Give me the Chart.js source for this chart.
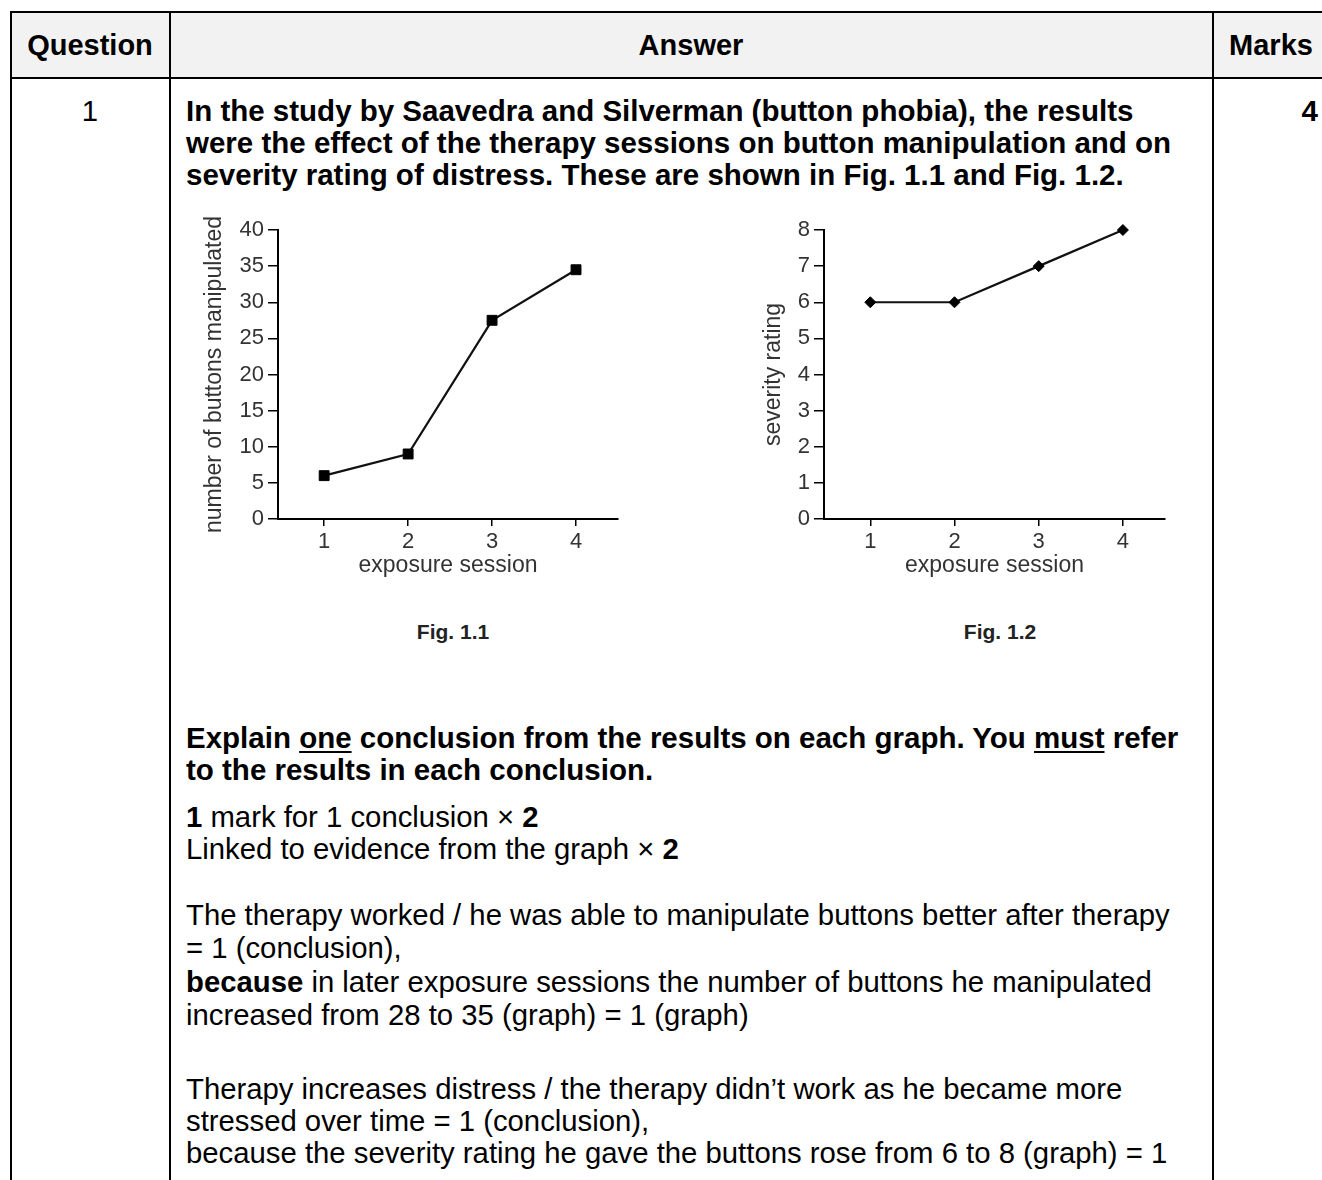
<!DOCTYPE html>
<html><head><meta charset="utf-8">
<script src="https://cdn.jsdelivr.net/npm/chart.js@4.4.1/dist/chart.umd.min.js"></script>
<style>
html,body{margin:0;padding:0;background:#fff;}
body{width:1322px;height:1180px;position:relative;overflow:hidden;font-family:"Liberation Sans",Arial,sans-serif;color:#000;}
.hdr{position:absolute;left:10px;top:12px;width:1330px;height:66px;background:#f2f2f2;}
.ln{position:absolute;background:#000;}
.t{position:absolute;white-space:nowrap;font-size:29.3px;line-height:32px;}
.c{transform:translateX(-50%);}
.b{font-weight:bold;}
.bb{font-size:29.5px;}
.h{font-size:29px;}
.u{text-decoration:underline;text-decoration-thickness:2px;text-underline-offset:3px;}
.fig{position:absolute;font-weight:bold;font-size:21px;line-height:24px;color:#222;transform:translate(-50%,-50%);white-space:nowrap;}
.cv{position:absolute;width:450px;height:390px;}
</style></head>
<body>
<div class="hdr"></div>
<div class="ln" style="left:10px;top:11px;width:1330px;height:1.5px"></div>
<div class="ln" style="left:10px;top:77px;width:1330px;height:2px"></div>
<div class="ln" style="left:10px;top:11px;width:1.5px;height:1170px"></div>
<div class="ln" style="left:169px;top:11px;width:1.5px;height:1170px"></div>
<div class="ln" style="left:1212px;top:11px;width:1.5px;height:1170px"></div>

<div class="t b h c" style="left:90px;top:29px">Question</div>
<div class="t b h c" style="left:691px;top:29px">Answer</div>
<div class="t b h c" style="left:1271px;top:29px">Marks</div>

<div class="t c" style="left:90px;top:95px">1</div>
<div class="t b bb" style="right:4px;top:95px">4</div>

<div class="t b bb" style="left:186px;top:95px">In the study by Saavedra and Silverman (button phobia), the results</div>
<div class="t b bb" style="left:186px;top:127px">were the effect of the therapy sessions on button manipulation and on</div>
<div class="t b bb" style="left:186px;top:159px">severity rating of distress. These are shown in Fig. 1.1 and Fig. 1.2.</div>

<div class="cv" style="left:190px;top:200px"><canvas id="fig1" width="450" height="390"></canvas></div>
<div class="cv" style="left:740px;top:200px"><canvas id="fig2" width="450" height="390"></canvas></div>

<div class="fig" style="left:453px;top:632px">Fig. 1.1</div>
<div class="fig" style="left:1000px;top:632px">Fig. 1.2</div>

<div class="t b bb" style="left:186px;top:722px">Explain <span class="u">one</span> conclusion from the results on each graph. You <span class="u">must</span> refer</div>
<div class="t b bb" style="left:186px;top:754px">to the results in each conclusion.</div>

<div class="t" style="left:186px;top:801px"><b>1</b> mark for 1 conclusion &times; <b>2</b></div>
<div class="t" style="left:186px;top:833px">Linked to evidence from the graph &times; <b>2</b></div>

<div class="t" style="left:186px;top:899px">The therapy worked / he was able to manipulate buttons better after therapy</div>
<div class="t" style="left:186px;top:932px">= 1 (conclusion),</div>
<div class="t" style="left:186px;top:966px"><b>because</b> in later exposure sessions the number of buttons he manipulated</div>
<div class="t" style="left:186px;top:999px">increased from 28 to 35 (graph) = 1 (graph)</div>

<div class="t" style="left:186px;top:1073px">Therapy increases distress / the therapy didn&rsquo;t work as he became more</div>
<div class="t" style="left:186px;top:1105px">stressed over time = 1 (conclusion),</div>
<div class="t" style="left:186px;top:1137px">because the severity rating he gave the buttons rose from 6 to 8 (graph) = 1</div>

<script>
const sessions = [1, 2, 3, 4];
const buttonsManipulated = [6, 9, 27.5, 34.5];
const severityRating = [6, 6, 7, 8];
const buttonTicks = [0, 5, 10, 15, 20, 25, 30, 35, 40];
const severityTicks = [0, 1, 2, 3, 4, 5, 6, 7, 8];

const FONT = '"Liberation Sans", Arial, sans-serif';
const INK = '#333';

function makeChart(id, values, yTicks, yTitle, pointStyle, pointRadius, yWidth, padRight, yTitlePad) {
  const ctx = document.getElementById(id);
  return new Chart(ctx, {
    type: 'line',
    data: {
      datasets: [{
        data: sessions.map((s, i) => ({x: s, y: values[i]})),
        borderColor: '#111',
        borderWidth: 2.2,
        pointStyle: pointStyle,
        pointRadius: pointRadius,
        pointBackgroundColor: '#000',
        pointBorderColor: '#000',
        pointBorderWidth: 1,
        tension: 0,
        fill: false,
        clip: false
      }]
    },
    options: {
      responsive: false,
      animation: false,
      devicePixelRatio: 1,
      layout: {padding: {top: 30, right: padRight, left: 0, bottom: 0}},
      plugins: {legend: {display: false}, tooltip: {enabled: false}},
      scales: {
        x: {
          type: 'linear', min: 0.45, max: 4.5,
          afterBuildTicks: s => { s.ticks = sessions.map(v => ({value: v})); },
          afterFit: s => { s.height = 71; },
          grid: {drawOnChartArea: false, drawTicks: true, tickLength: 7, color: '#000', lineWidth: 1.5},
          border: {display: true, color: '#000', width: 2},
          ticks: {padding: 3, color: INK, font: {family: FONT, size: 22}, autoSkip: false, maxRotation: 0},
          title: {display: true, text: 'exposure session', color: INK, font: {family: FONT, size: 23}, padding: {top: 0, bottom: 11}}
        },
        y: {
          min: 0, max: yTicks[yTicks.length - 1],
          afterBuildTicks: s => { s.ticks = yTicks.map(v => ({value: v})); },
          afterFit: s => { s.width = yWidth; },
          grid: {drawOnChartArea: false, drawTicks: true, tickLength: 10, color: '#000', lineWidth: 1.5},
          border: {display: true, color: '#000', width: 2},
          ticks: {padding: 4, color: INK, font: {family: FONT, size: 22}, autoSkip: false},
          title: {display: true, text: yTitle, color: INK, font: {family: FONT, size: 23}, padding: {top: yTitlePad, bottom: 0}}
        }
      }
    }
  });
}

makeChart('fig1', buttonsManipulated, buttonTicks, 'number of buttons manipulated', 'rect', 7, 88, 22, 11);
makeChart('fig2', severityRating, severityTicks, 'severity rating', 'rectRot', 5.5, 84, 25, 20);
</script>
</body></html>
